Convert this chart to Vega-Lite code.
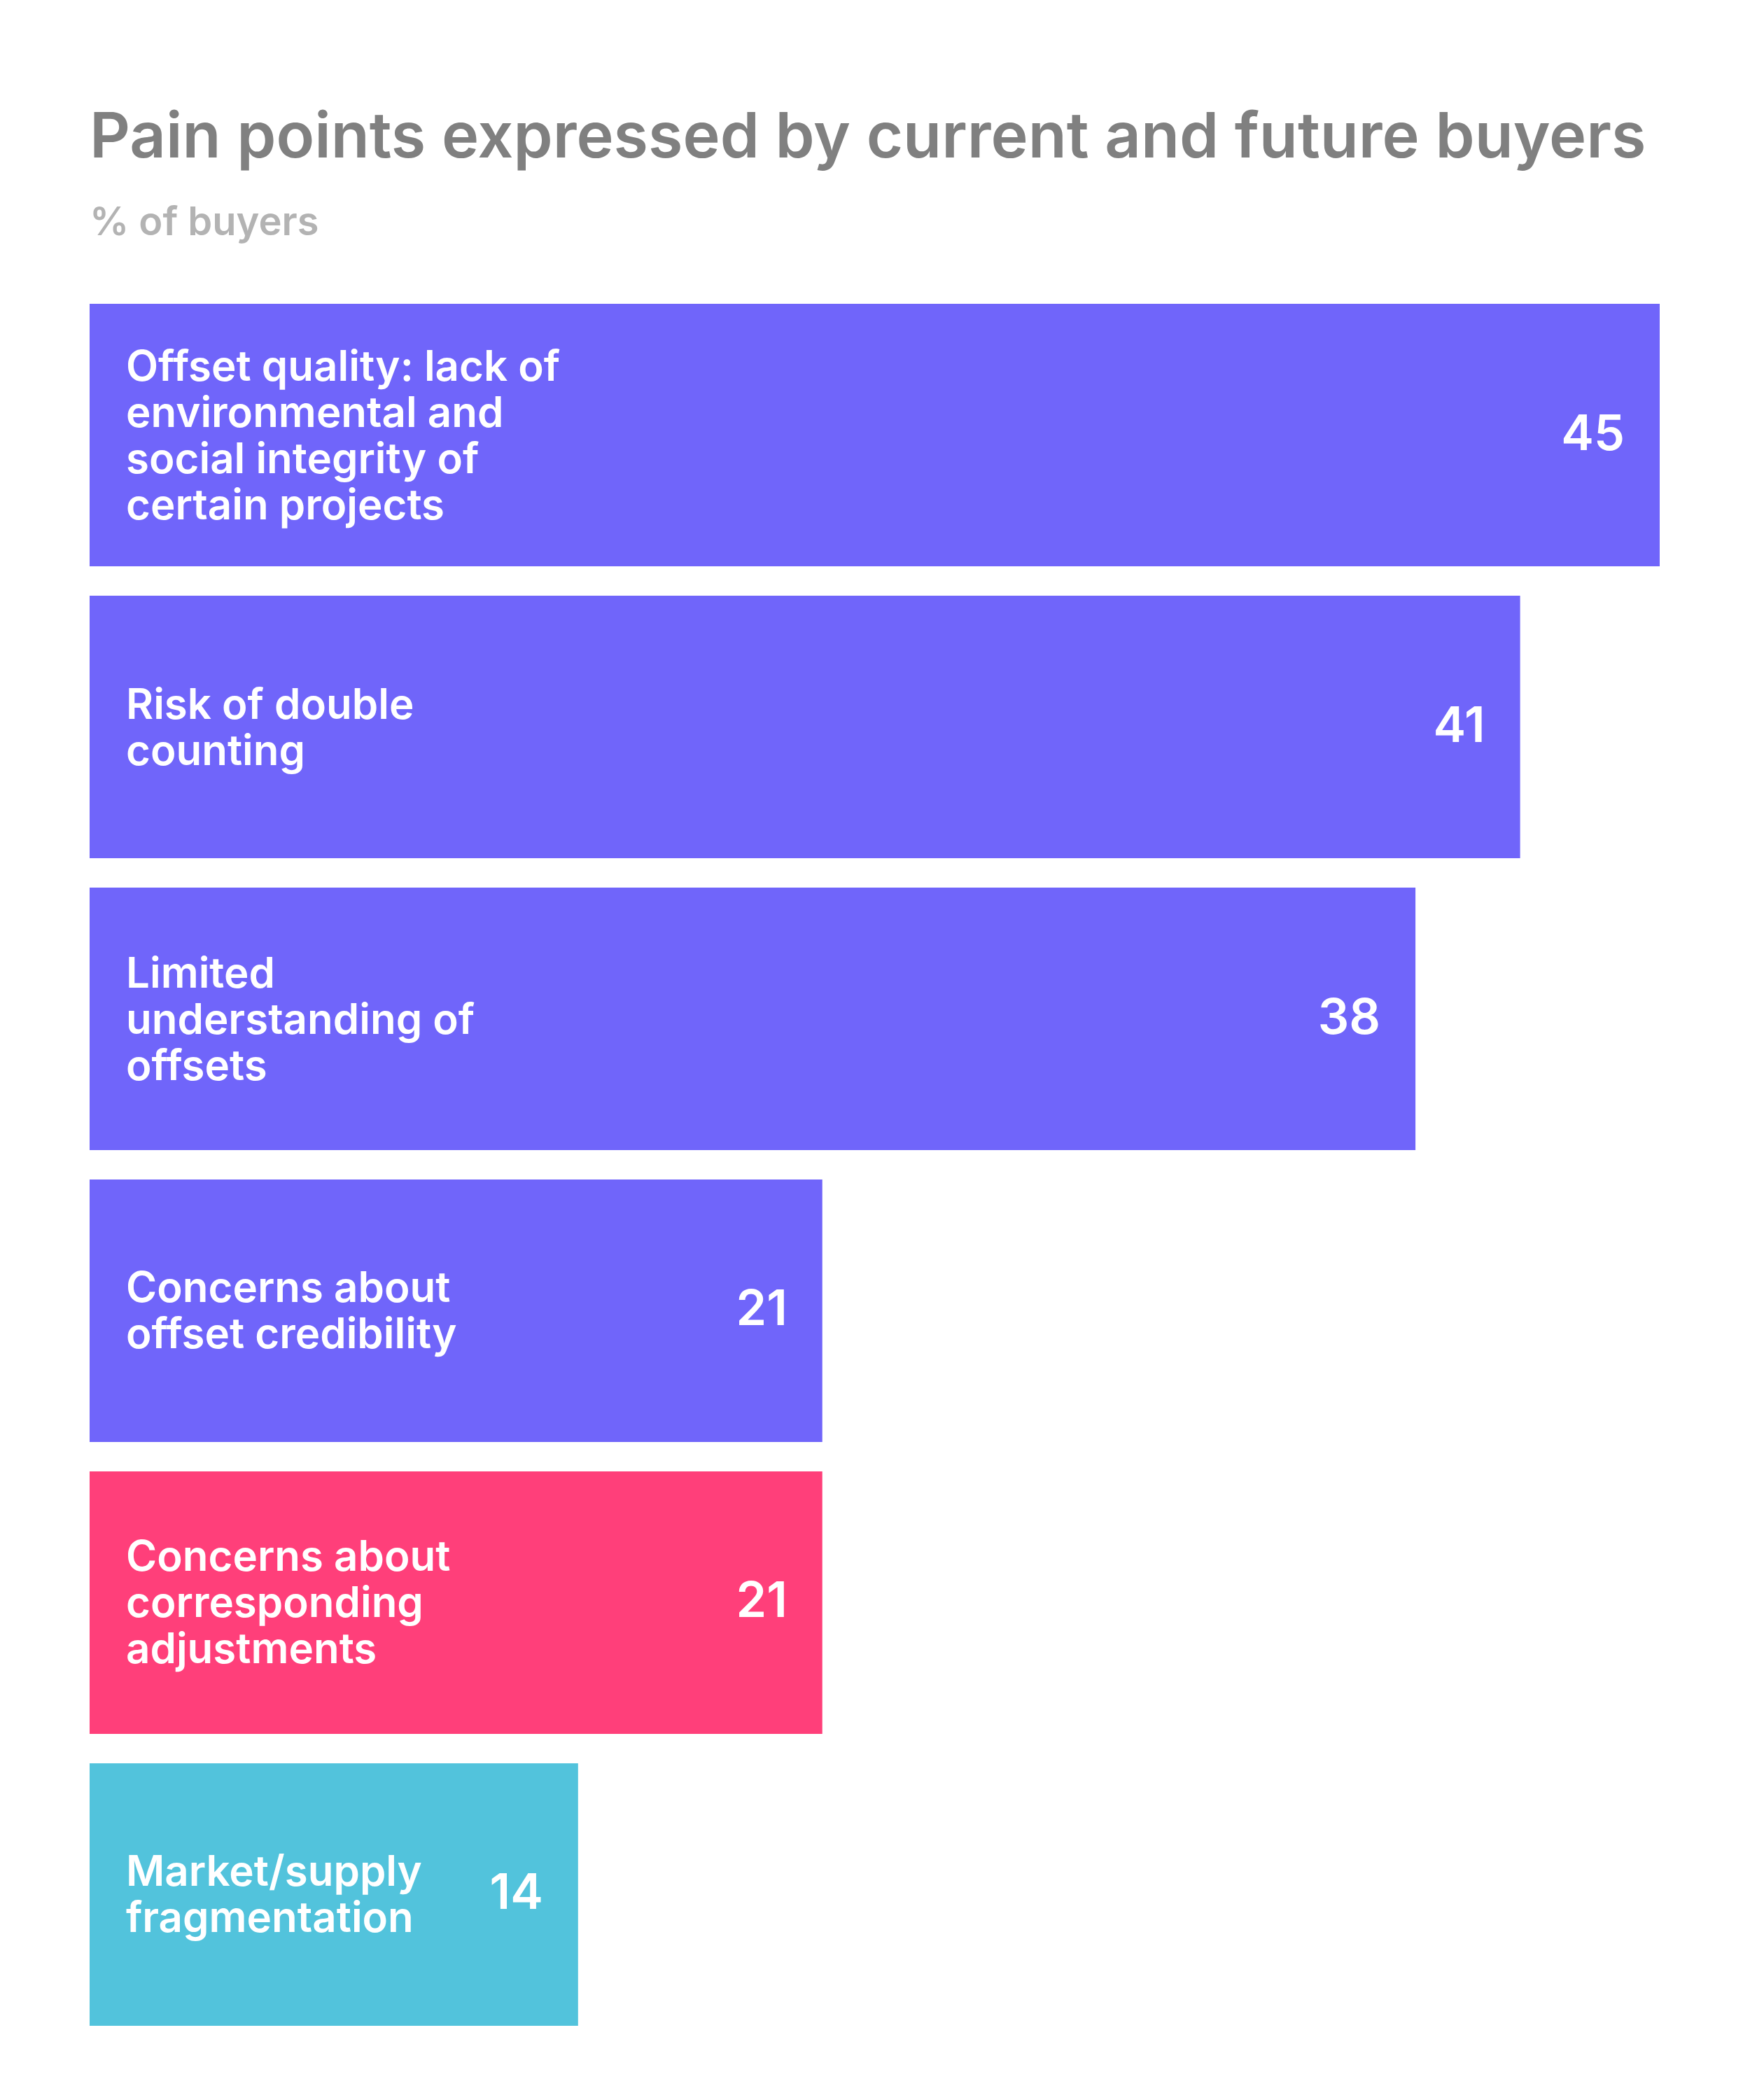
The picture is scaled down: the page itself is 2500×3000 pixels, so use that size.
{
  "$schema": "https://vega.github.io/schema/vega-lite/v6.json",
  "width": 2243,
  "height": 2460,
  "autosize": {"type": "none"},
  "padding": {"left": 128, "top": 434, "right": 129, "bottom": 106},
  "background": "#ffffff",
  "config": {"view": {"stroke": null}},
  "title": {
    "text": "Pain points expressed by current and future buyers",
    "subtitle": "% of buyers",
    "anchor": "start",
    "frame": "group",
    "font": "Inter",
    "fontSize": 90,
    "fontWeight": 600,
    "color": "#808080",
    "subtitleFont": "Inter",
    "subtitleFontSize": 56,
    "subtitleFontWeight": 600,
    "subtitleColor": "#b3b3b3",
    "subtitlePadding": 48,
    "offset": 86
  },
  "data": {
    "values": [
      {"pain": "Offset quality: lack of environmental and social integrity of certain projects", "lines": ["Offset quality: lack of", "environmental and", "social integrity of", "certain projects"], "pct": 45, "group": "offset"},
      {"pain": "Risk of double counting", "lines": ["Risk of double", "counting"], "pct": 41, "group": "offset"},
      {"pain": "Limited understanding of offsets", "lines": ["Limited", "understanding of", "offsets"], "pct": 38, "group": "offset"},
      {"pain": "Concerns about offset credibility", "lines": ["Concerns about", "offset credibility"], "pct": 21, "group": "offset"},
      {"pain": "Concerns about corresponding adjustments", "lines": ["Concerns about", "corresponding", "adjustments"], "pct": 21, "group": "adjustments"},
      {"pain": "Market/supply fragmentation", "lines": ["Market/supply", "fragmentation"], "pct": 14, "group": "market"}
    ]
  },
  "encoding": {
    "y": {"field": "pain", "type": "nominal", "sort": null, "axis": null,
          "scale": {"paddingInner": 0.1007, "paddingOuter": 0}}
  },
  "layer": [
    {
      "mark": {"type": "bar"},
      "encoding": {
        "x": {"field": "pct", "type": "quantitative", "axis": null, "scale": {"domain": [0, 45], "nice": false}},
        "color": {"field": "group", "type": "nominal", "legend": null,
                  "scale": {"domain": ["offset", "adjustments", "market"], "range": ["#7065FA", "#FF3F7A", "#52C3DC"]}}
      }
    },
    {
      "transform": [{"filter": "length(datum.lines) == 2"}],
      "mark": {"type": "text", "align": "left", "baseline": "middle", "dx": 52, "dy": -30, "font": "Inter", "fontSize": 60, "fontWeight": 600, "color": "#ffffff", "lineHeight": 66},
      "encoding": {
        "x": {"datum": 0, "type": "quantitative"},
        "text": {"field": "lines"}
      }
    },
    {
      "transform": [{"filter": "length(datum.lines) == 3"}],
      "mark": {"type": "text", "align": "left", "baseline": "middle", "dx": 52, "dy": -63, "font": "Inter", "fontSize": 60, "fontWeight": 600, "color": "#ffffff", "lineHeight": 66},
      "encoding": {
        "x": {"datum": 0, "type": "quantitative"},
        "text": {"field": "lines"}
      }
    },
    {
      "transform": [{"filter": "length(datum.lines) == 4"}],
      "mark": {"type": "text", "align": "left", "baseline": "middle", "dx": 52, "dy": -96, "font": "Inter", "fontSize": 60, "fontWeight": 600, "color": "#ffffff", "lineHeight": 66},
      "encoding": {
        "x": {"datum": 0, "type": "quantitative"},
        "text": {"field": "lines"}
      }
    },
    {
      "mark": {"type": "text", "align": "right", "baseline": "middle", "dx": -50, "font": "Inter", "fontSize": 70, "fontWeight": 600, "color": "#ffffff"},
      "encoding": {
        "x": {"field": "pct", "type": "quantitative"},
        "text": {"field": "pct", "type": "quantitative"}
      }
    }
  ]
}
